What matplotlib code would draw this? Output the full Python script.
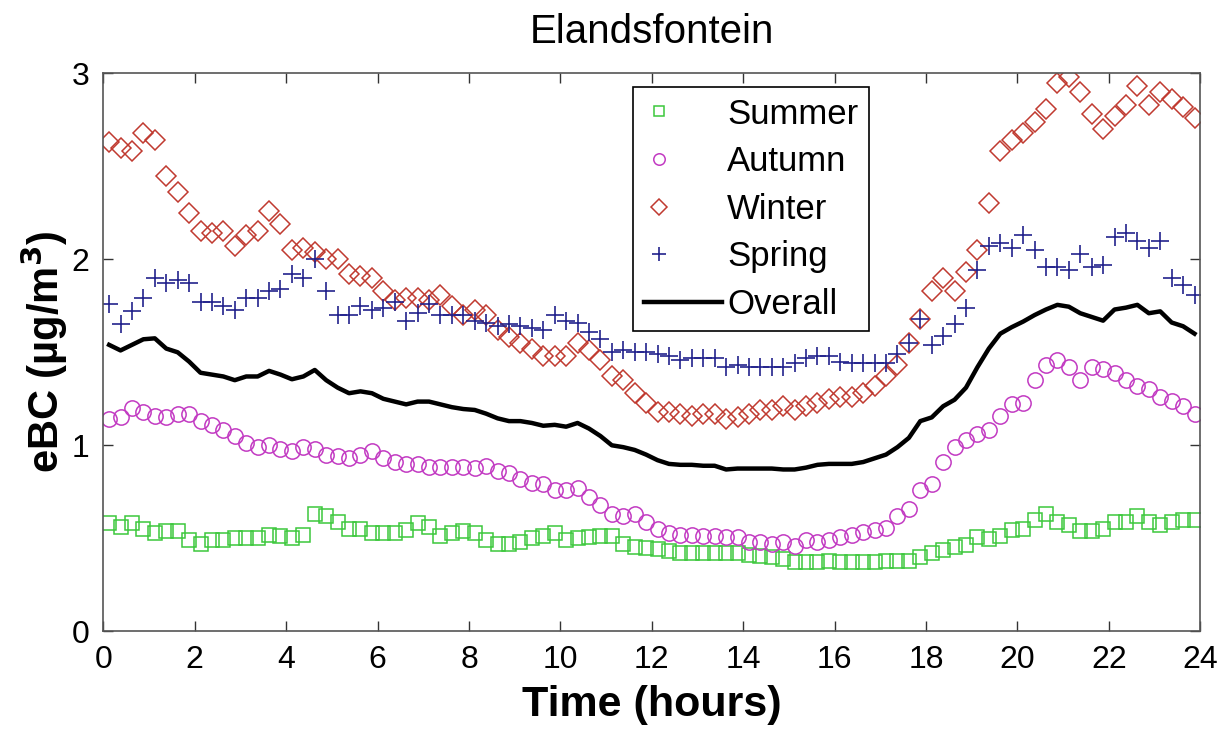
import numpy as np
import matplotlib
matplotlib.use("Agg")
import matplotlib.pyplot as plt
from matplotlib.lines import Line2D
from matplotlib.legend_handler import HandlerLine2D

plt.rcParams["font.family"] = ["Liberation Sans", "DejaVu Sans"]

# 15-minute means, centred on each quarter hour
time_hours = 0.125 + 0.25 * np.arange(96)

summer = [0.58, 0.56, 0.58, 0.55, 0.53, 0.54, 0.54, 0.49, 0.47, 0.49, 0.49, 0.50, 0.50, 0.50, 0.52, 0.51,
          0.50, 0.52, 0.63, 0.62, 0.59, 0.55, 0.55, 0.53, 0.53, 0.53, 0.545, 0.58, 0.56, 0.51, 0.53, 0.54,
          0.53, 0.49, 0.47, 0.47, 0.48, 0.50, 0.51, 0.53, 0.49, 0.50, 0.505, 0.51, 0.51, 0.47, 0.455, 0.45,
          0.44, 0.43, 0.42, 0.42, 0.42, 0.42, 0.42, 0.42, 0.41, 0.405, 0.40, 0.39, 0.37, 0.375, 0.375, 0.38,
          0.375, 0.375, 0.375, 0.375, 0.38, 0.38, 0.38, 0.40, 0.42, 0.435, 0.455, 0.465, 0.505, 0.495, 0.51, 0.545,
          0.55, 0.60, 0.63, 0.585, 0.57, 0.54, 0.54, 0.55, 0.585, 0.59, 0.62, 0.59, 0.57, 0.585, 0.60, 0.60]

autumn = [1.14, 1.15, 1.20, 1.18, 1.16, 1.15, 1.17, 1.17, 1.13, 1.11, 1.08, 1.05, 1.01, 0.99, 1.00, 0.98,
          0.97, 0.99, 0.98, 0.95, 0.94, 0.93, 0.95, 0.97, 0.93, 0.91, 0.90, 0.90, 0.885, 0.885, 0.885, 0.885,
          0.88, 0.89, 0.86, 0.85, 0.82, 0.80, 0.79, 0.76, 0.76, 0.77, 0.72, 0.68, 0.63, 0.62, 0.63, 0.59,
          0.55, 0.53, 0.52, 0.52, 0.51, 0.51, 0.505, 0.505, 0.48, 0.48, 0.47, 0.48, 0.46, 0.49, 0.48, 0.49,
          0.505, 0.52, 0.535, 0.545, 0.555, 0.62, 0.66, 0.76, 0.79, 0.91, 0.99, 1.03, 1.06, 1.08, 1.16, 1.22,
          1.23, 1.35, 1.43, 1.46, 1.42, 1.35, 1.42, 1.41, 1.39, 1.35, 1.32, 1.30, 1.26, 1.24, 1.21, 1.17]

winter = [2.63, 2.60, 2.58, 2.68, 2.64, 2.45, 2.36, 2.25, 2.15, 2.14, 2.15, 2.07, 2.13, 2.15, 2.26, 2.19,
          2.05, 2.06, 2.04, 2.00, 2.00, 1.92, 1.91, 1.90, 1.83, 1.78, 1.79, 1.79, 1.78, 1.81, 1.75, 1.70,
          1.73, 1.70, 1.62, 1.58, 1.55, 1.52, 1.48, 1.48, 1.48, 1.55, 1.51, 1.46, 1.37, 1.35, 1.28, 1.23,
          1.18, 1.18, 1.17, 1.16, 1.17, 1.17, 1.14, 1.15, 1.17, 1.19, 1.19, 1.21, 1.19, 1.21, 1.23, 1.25,
          1.26, 1.26, 1.28, 1.32, 1.37, 1.43, 1.55, 1.68, 1.83, 1.90, 1.83, 1.93, 2.05, 2.30, 2.58, 2.64,
          2.68, 2.74, 2.81, 2.95, 2.98, 2.90, 2.78, 2.70, 2.77, 2.83, 2.93, 2.83, 2.90, 2.86, 2.82, 2.76]

spring = [1.76, 1.65, 1.72, 1.79, 1.90, 1.87, 1.89, 1.87, 1.77, 1.77, 1.75, 1.73, 1.79, 1.79, 1.83, 1.84,
          1.92, 1.90, 2.00, 1.83, 1.70, 1.70, 1.75, 1.73, 1.74, 1.77, 1.67, 1.71, 1.76, 1.70, 1.70, 1.70,
          1.67, 1.66, 1.64, 1.65, 1.64, 1.63, 1.62, 1.70, 1.67, 1.66, 1.61, 1.57, 1.50, 1.51, 1.50, 1.50,
          1.49, 1.48, 1.46, 1.47, 1.47, 1.47, 1.42, 1.43, 1.42, 1.42, 1.42, 1.42, 1.44, 1.47, 1.48, 1.48,
          1.45, 1.44, 1.44, 1.44, 1.44, 1.49, 1.55, 1.68, 1.54, 1.59, 1.65, 1.74, 1.94, 2.07, 2.09, 2.06,
          2.13, 2.05, 1.96, 1.96, 1.94, 2.03, 1.96, 1.97, 2.12, 2.14, 2.10, 2.06, 2.10, 1.90, 1.86, 1.81]

overall = [1.54, 1.51, 1.54, 1.57, 1.575, 1.52, 1.50, 1.45, 1.39, 1.38, 1.37, 1.35, 1.37, 1.37, 1.40, 1.38,
           1.355, 1.37, 1.405, 1.35, 1.31, 1.28, 1.29, 1.28, 1.25, 1.235, 1.22, 1.235, 1.235, 1.22, 1.205, 1.195,
           1.19, 1.17, 1.145, 1.13, 1.13, 1.12, 1.105, 1.11, 1.10, 1.12, 1.09, 1.05, 1.00, 0.99, 0.975, 0.95,
           0.92, 0.90, 0.895, 0.895, 0.89, 0.89, 0.87, 0.875, 0.875, 0.875, 0.875, 0.87, 0.87, 0.88, 0.895, 0.90,
           0.90, 0.90, 0.91, 0.93, 0.95, 0.99, 1.04, 1.13, 1.15, 1.21, 1.245, 1.31, 1.42, 1.52, 1.60, 1.635,
           1.665, 1.70, 1.73, 1.755, 1.745, 1.71, 1.69, 1.67, 1.73, 1.74, 1.755, 1.71, 1.72, 1.66, 1.64, 1.60]


class LeftMarkerHandler(HandlerLine2D):
    # MATLAB-style legend: marker sits near the left of the handle
    def create_artists(self, legend, orig_handle, xdescent, ydescent,
                       width, height, fontsize, trans):
        x0 = -xdescent
        xdata = np.array([x0, x0 + 0.2 * width, x0 + width])
        ydata = np.full_like(xdata, (height - ydescent) / 2)
        legline = Line2D(xdata, ydata, markevery=[1])
        self.update_prop(legline, orig_handle, legend)
        legline.set_markersize(legline.get_markersize() * legend.markerscale)
        legline.set_transform(trans)
        return [legline]


fig = plt.figure(figsize=(12.31, 7.29), dpi=100)
ax = fig.add_axes([0.084, 0.134, 0.891, 0.7655])

ax.plot(time_hours, summer, "s", ms=10, mfc="none", mec="#3cc83c", mew=1.1, label="Summer")
ax.plot(time_hours, autumn, "o", ms=11, mfc="none", mec="#c23ac2", mew=1.1, label="Autumn")
ax.plot(time_hours, winter, "D", ms=10.5, mfc="none", mec="#c03a30", mew=1.1, label="Winter")
ax.plot(time_hours, spring, "+", ms=13, mec="#22228c", mew=1.2, label="Spring")
ax.plot(time_hours, overall, "-", color="black", lw=3.2, label="Overall")

ax.set_xlim(0, 24)
ax.set_ylim(0, 3)
ax.set_xticks(range(0, 25, 2))
ax.set_yticks([0, 1, 2, 3])
ax.tick_params(direction="in", length=7, width=1, top=True, right=True,
               labelsize=23, pad=10, colors="#333333", labelcolor="black")
for s in ax.spines.values():
    s.set_color("#555555")
    s.set_linewidth(1.2)

ax.set_title("Elandsfontein", fontsize=29, pad=22)
ax.set_xlabel("Time (hours)", fontsize=31, fontweight="bold", labelpad=7)
ax.set_ylabel(r"eBC (µg/m$^\mathbf{3}$)", fontsize=30, fontweight="bold", labelpad=1)

leg = ax.legend(loc="upper left", bbox_to_anchor=(0.483, 0.975), borderaxespad=0,
                fontsize=25, frameon=True, fancybox=False, edgecolor="black",
                framealpha=1, handlelength=2.25, handletextpad=0.15, borderpad=0.3,
                labelspacing=0.42, markerscale=0.75,
                handler_map={Line2D: LeftMarkerHandler()})
leg.get_frame().set_linewidth(1.2)

fig.savefig("out.png", dpi=100)
